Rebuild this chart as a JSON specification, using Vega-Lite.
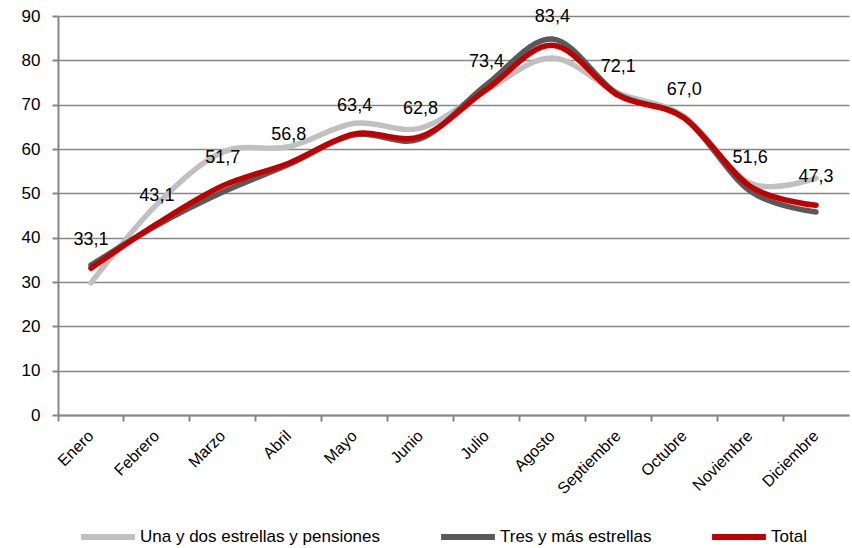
{
  "$schema": "https://vega.github.io/schema/vega-lite/v6.json",
  "width": 791,
  "height": 399,
  "autosize": {"type": "none"},
  "padding": {"left": 58, "top": 16, "right": 3, "bottom": 133},
  "background": "white",
  "config": {
    "font": "Liberation Sans",
    "view": {"stroke": null},
    "locale": {"number": {"decimal": ",", "thousands": ".", "grouping": [3], "currency": ["", " €"]}}
  },
  "data": {
    "values": [
      {"mes": "Enero", "serie": "Una y dos estrellas y pensiones", "valor": 29.8},
      {"mes": "Febrero", "serie": "Una y dos estrellas y pensiones", "valor": 47.5},
      {"mes": "Marzo", "serie": "Una y dos estrellas y pensiones", "valor": 59.3},
      {"mes": "Abril", "serie": "Una y dos estrellas y pensiones", "valor": 60.5},
      {"mes": "Mayo", "serie": "Una y dos estrellas y pensiones", "valor": 65.8},
      {"mes": "Junio", "serie": "Una y dos estrellas y pensiones", "valor": 64.7},
      {"mes": "Julio", "serie": "Una y dos estrellas y pensiones", "valor": 73.3},
      {"mes": "Agosto", "serie": "Una y dos estrellas y pensiones", "valor": 80.5},
      {"mes": "Septiembre", "serie": "Una y dos estrellas y pensiones", "valor": 72.6},
      {"mes": "Octubre", "serie": "Una y dos estrellas y pensiones", "valor": 67.4},
      {"mes": "Noviembre", "serie": "Una y dos estrellas y pensiones", "valor": 52.3},
      {"mes": "Diciembre", "serie": "Una y dos estrellas y pensiones", "valor": 53.4},
      {"mes": "Enero", "serie": "Tres y más estrellas", "valor": 33.8},
      {"mes": "Febrero", "serie": "Tres y más estrellas", "valor": 42.8},
      {"mes": "Marzo", "serie": "Tres y más estrellas", "valor": 50.3},
      {"mes": "Abril", "serie": "Tres y más estrellas", "valor": 56.5},
      {"mes": "Mayo", "serie": "Tres y más estrellas", "valor": 63.2},
      {"mes": "Junio", "serie": "Tres y más estrellas", "valor": 62.3},
      {"mes": "Julio", "serie": "Tres y más estrellas", "valor": 74.5},
      {"mes": "Agosto", "serie": "Tres y más estrellas", "valor": 84.8},
      {"mes": "Septiembre", "serie": "Tres y más estrellas", "valor": 72.3},
      {"mes": "Octubre", "serie": "Tres y más estrellas", "valor": 67.0},
      {"mes": "Noviembre", "serie": "Tres y más estrellas", "valor": 50.5},
      {"mes": "Diciembre", "serie": "Tres y más estrellas", "valor": 45.8},
      {"mes": "Enero", "serie": "Total", "valor": 33.1},
      {"mes": "Febrero", "serie": "Total", "valor": 43.1},
      {"mes": "Marzo", "serie": "Total", "valor": 51.7},
      {"mes": "Abril", "serie": "Total", "valor": 56.8},
      {"mes": "Mayo", "serie": "Total", "valor": 63.4},
      {"mes": "Junio", "serie": "Total", "valor": 62.8},
      {"mes": "Julio", "serie": "Total", "valor": 73.4},
      {"mes": "Agosto", "serie": "Total", "valor": 83.4},
      {"mes": "Septiembre", "serie": "Total", "valor": 72.1},
      {"mes": "Octubre", "serie": "Total", "valor": 67.0},
      {"mes": "Noviembre", "serie": "Total", "valor": 51.6},
      {"mes": "Diciembre", "serie": "Total", "valor": 47.3}
    ]
  },
  "encoding": {
    "x": {
      "field": "mes",
      "type": "ordinal",
      "sort": ["Enero", "Febrero", "Marzo", "Abril", "Mayo", "Junio", "Julio", "Agosto", "Septiembre", "Octubre", "Noviembre", "Diciembre"],
      "scale": {"type": "band", "paddingInner": 0, "paddingOuter": 0},
      "axis": {
        "title": null,
        "bandPosition": 0,
        "labelAngle": -45,
        "labelAlign": "right",
        "labelBaseline": "middle",
        "labelPadding": 12,
        "labelFontSize": 16,
        "labelColor": "#000000",
        "domainColor": "#868686",
        "domainWidth": 2,
        "tickColor": "#868686",
        "tickWidth": 2,
        "tickSize": 6,
        "grid": false
      }
    },
    "y": {
      "field": "valor",
      "type": "quantitative",
      "scale": {"domain": [0, 90], "nice": false},
      "axis": {
        "title": null,
        "values": [0, 10, 20, 30, 40, 50, 60, 70, 80, 90],
        "labelFontSize": 17,
        "labelColor": "#000000",
        "labelPadding": 12,
        "domainColor": "#868686",
        "domainWidth": 2,
        "tickColor": "#868686",
        "tickWidth": 2,
        "tickSize": 6,
        "grid": true,
        "gridColor": "#868686",
        "gridWidth": 1.5
      }
    }
  },
  "layer": [
    {
      "mark": {"type": "line", "interpolate": "cardinal", "tension": 0, "strokeWidth": 5.5, "strokeCap": "round"},
      "encoding": {
        "color": {
          "field": "serie",
          "type": "nominal",
          "scale": {
            "domain": ["Una y dos estrellas y pensiones", "Tres y más estrellas", "Total"],
            "range": ["#C0C0C0", "#595959", "#C00000"]
          },
          "legend": {
            "title": null,
            "orient": "none",
            "legendX": 20,
            "legendY": 491,
            "direction": "horizontal",
            "symbolType": "stroke",
            "symbolSize": 2900,
            "symbolStrokeWidth": 6,
            "labelFontSize": 17,
            "labelColor": "#000000",
            "labelOffset": 2,
            "columnPadding": 48,
            "labelLimit": 400
          }
        }
      }
    },
    {
      "transform": [{"filter": "datum.serie === 'Total'"}],
      "mark": {"type": "text", "dy": -28, "fontSize": 18, "color": "#000000", "baseline": "middle"},
      "encoding": {
        "text": {"field": "valor", "type": "quantitative", "format": ".1f"}
      }
    }
  ]
}
